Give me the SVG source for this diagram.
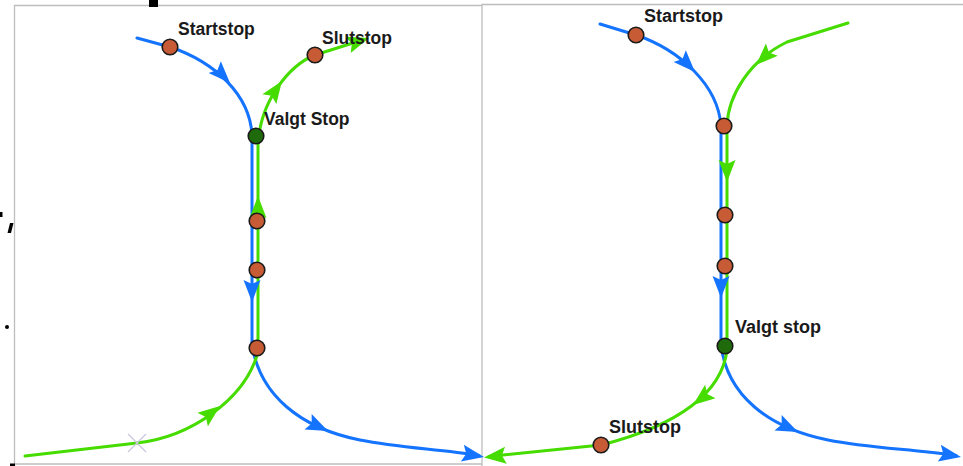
<svg xmlns="http://www.w3.org/2000/svg" width="963" height="466" viewBox="0 0 963 466">
<style>
.frame{fill:none;stroke:#bdbdbd;stroke-width:1.3}
.blue{fill:none;stroke:#1473ff;stroke-width:3;stroke-linecap:round;stroke-linejoin:round}
.green{fill:none;stroke:#46dc00;stroke-width:3;stroke-linecap:round;stroke-linejoin:round}
.ab{fill:#1473ff}
.ag{fill:#46dc00}
.stop{fill:#c65b36;stroke:#1a1a1a;stroke-width:1.6}
.sel{fill:#1f6a0b;stroke:#1a1a1a;stroke-width:1.6}
.lbl{font-family:"Liberation Sans",Arial,Helvetica,sans-serif;font-weight:bold;font-size:17.5px;fill:#1a1a1a}
.frag{fill:#000}
</style>
<defs>
<path id="ah" d="M0,0 L-22,-8.5 L-18,0 L-22,8.5 Z"/>
</defs>

<rect width="963" height="466" fill="#fff"/>

<g id="frames">
<path class="frame" d="M14.5,466 V5.5 H482 M14.5,464 H482"/>
<path class="frame" d="M482,466 V4.5 H963"/>
</g>

<g id="fragments">
<rect class="frag" x="149" y="0" width="9" height="7"/>
<path class="frag" d="M0,212 h2.5 v5 h-2.5 Z"/>
<path class="frag" d="M10,223 h3.5 l-2.5,10 h-3.5 Z"/>
<circle class="frag" cx="7" cy="327" r="2"/>
<rect class="frag" x="10" y="463.5" width="5" height="2.5"/>
</g>

<g id="connectors">
<!-- left panel -->
<path class="blue" d="M137,38 L170,47 C215,62 250,95 252,135 L252,345 C260,395 300,428 360,440 C400,448 440,449 479,455.5"/>
<path class="green" d="M25,456 L137,443 C190,437 245,400 258,352 L258,145 C260,100 290,65 315,55 L364,39.5"/>
<use href="#ah" class="ab" transform="translate(230,83) rotate(46)"/>
<use href="#ah" class="ab" transform="translate(252,302) rotate(90)"/>
<use href="#ah" class="ab" transform="translate(328,431) rotate(25)"/>
<use href="#ah" class="ab" transform="translate(484,457) rotate(10)"/>
<use href="#ah" class="ag" transform="translate(282,81) rotate(-55)"/>
<use href="#ah" class="ag" transform="translate(369,38) rotate(-18)"/>
<use href="#ah" class="ag" transform="translate(258,196) rotate(-90)"/>
<use href="#ah" class="ag" transform="translate(220,406) rotate(-38)"/>
<path d="M128,434 L146,452 M146,434 L128,452" fill="none" stroke="#c9c6de" stroke-width="1.2"/>
<!-- right panel -->
<path class="blue" d="M600,24 L636,35 C680,50 718,85 721,126 L721,345 C727,395 768,428 828,440 C868,448 910,449 956,455.5"/>
<path class="green" d="M848,23 L787,42 C750,60 728,95 727,126 L727,350 C722,392 680,425 601,445 L489,456.5"/>
<use href="#ah" class="ab" transform="translate(695,72) rotate(46)"/>
<use href="#ah" class="ab" transform="translate(721,298) rotate(90)"/>
<use href="#ah" class="ab" transform="translate(798,432) rotate(25)"/>
<use href="#ah" class="ab" transform="translate(961,457) rotate(10)"/>
<use href="#ah" class="ag" transform="translate(756,65) rotate(136)"/>
<use href="#ah" class="ag" transform="translate(727,182) rotate(90)"/>
<use href="#ah" class="ag" transform="translate(693,405) rotate(142)"/>
<use href="#ah" class="ag" transform="translate(484,457.5) rotate(174)"/>
</g>

<g id="L-startstop"><circle class="stop" cx="170" cy="47" r="7.8"/><text class="lbl" x="178" y="35">Startstop</text></g>
<g id="L-slutstop"><circle class="stop" cx="315" cy="55" r="7.8"/><text class="lbl" x="322" y="43.5">Slutstop</text></g>
<g id="L-valgt"><circle class="sel" cx="256" cy="136" r="7.8"/><text class="lbl" x="264" y="124.5">Valgt Stop</text></g>
<g id="L-stop1"><circle class="stop" cx="257" cy="221" r="7.8"/></g>
<g id="L-stop2"><circle class="stop" cx="257" cy="270" r="7.8"/></g>
<g id="L-stop3"><circle class="stop" cx="257" cy="348" r="7.8"/></g>

<g id="R-startstop"><circle class="stop" cx="636" cy="35" r="7.8"/><text class="lbl" x="644" y="22" style="font-size:18px">Startstop</text></g>
<g id="R-stop1"><circle class="stop" cx="724" cy="126" r="7.8"/></g>
<g id="R-stop2"><circle class="stop" cx="725" cy="215" r="7.8"/></g>
<g id="R-stop3"><circle class="stop" cx="725" cy="266" r="7.8"/></g>
<g id="R-valgt"><circle class="sel" cx="725" cy="346" r="7.8"/><text class="lbl" x="735" y="332.5" style="font-size:18px">Valgt stop</text></g>
<g id="R-slutstop"><circle class="stop" cx="601" cy="445" r="7.8"/><text class="lbl" x="609" y="432.5" style="font-size:18px">Slutstop</text></g>
</svg>
